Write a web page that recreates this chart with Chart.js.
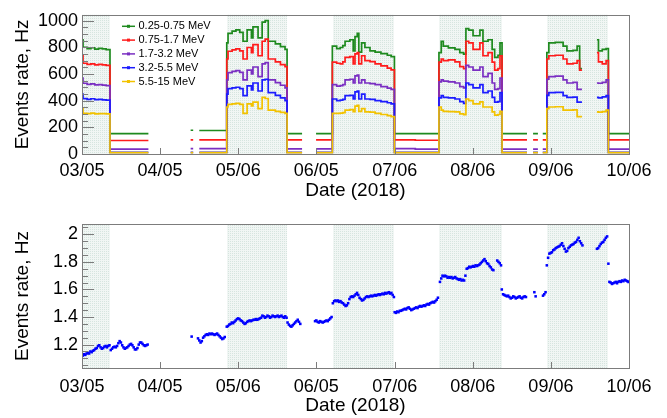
<!DOCTYPE html>
<html>
<head>
<meta charset="utf-8">
<script src="https://cdn.jsdelivr.net/npm/chart.js@4/dist/chart.umd.min.js"></script>
<style>
  html, body { margin: 0; padding: 0; background: #ffffff; }
  #wrap { position: relative; width: 667px; height: 418px; overflow: hidden; }
  .panel { position: absolute; left: 0; width: 667px; height: 209px; }
</style>
</head>
<body>
<div id="wrap">
  <div class="panel" style="top:0"><canvas id="topChart" width="667" height="209"></canvas></div>
  <div class="panel" style="top:209px"><canvas id="botChart" width="667" height="209"></canvas></div>
</div>
<script>
// ---------------- axis / annotation data ----------------
const tickDays   = [0, 30.7, 61.4, 92.1, 122.9, 153.6, 184.3, 215];
const tickLabels = ['03/05', '04/05', '05/06', '06/05', '07/06', '08/06', '09/06', '10/06'];
const shadeStart = [0, 56.8, 98.7, 140.4, 182.6];
const shadeEnd   = [11.0, 80.6, 122.5, 165.0, 206.9];
const topYTicks  = [0, 200, 400, 600, 800, 1000];
const botYTicks  = [1.2, 1.4, 1.6, 1.8, 2];
const botYLabels = ['1.2', '1.4', '1.6', '1.8', '2'];
const seriesLabels = ['0.25-0.75 MeV', '0.75-1.7 MeV', '1.7-3.2 MeV', '3.2-5.5 MeV', '5.5-15 MeV'];
const seriesColors = ['#1e8a1e', '#ff1c1c', '#7a2fc2', '#1c1cff', '#f2c200'];

// ---------------- top panel: rates per energy band (Hz) ----------------
const topDays = [
  0, 0.4, 2, 3.5, 5, 6.5, 8, 9.5, 11, 26.1,
  34, 42.7, 43.7, 45, 46.1, 56.9, 57.4, 59, 60.5, 62,
  63.3, 64.9, 66.6, 67.2, 69.2, 70.8, 72, 73.2, 76, 78,
  79.8, 80.6, 86.5, 89, 92, 98.4, 100.1, 101.5, 102.5, 103.4,
  105.3, 106.6, 107.3, 108.2, 108.8, 109.9, 111.2, 113.2, 115.2, 117.5,
  120, 121.5, 122.8, 131, 140.3, 141.2, 142, 144, 146.6, 148.5,
  150, 150.9, 152, 153.7, 156.4, 157.6, 159.6, 161.2, 162.2, 163.5,
  164.3, 165.1, 174.9, 176, 177.3, 179.2, 180, 181.1, 182.7, 183.5,
  186, 189.1, 190.6, 193, 194.6, 195.6, 196.5, 199, 202.4, 203,
  204.5, 206, 206.9, 215
];
const rateBand1 = [
  856, 800, 790, 796, 786, 792, 788, 782, 153, 153,
  null, 178, 178, null, 176, 832, 904, 920, 930, 912,
  845, 930, 870, 952, 870, 988, 1000, 845, 825, 805,
  784, 153, 153, null, 153, 808, 790, 798, 812, 845,
  856, 772, 880, 904, 763, 832, 798, 772, 763, 752,
  740, 730, 153, 153, 760, 845, 808, 795, 784, 760,
  748, 940, 928, 886, 928, 845, 856, 784, 724, 740,
  832, 153, 153, null, 153, 153, null, 153, 760, 832,
  836, 808, 772, 776, 808, 640, 640, null, 856, 772,
  784, 790, 153, 153
];
const rateBand2 = [
  736, 680, 672, 676, 668, 672, 668, 664, 101, 101,
  null, 106, 106, null, 106, 712, 770, 780, 788, 772,
  712, 798, 760, 820, 736, 845, 860, 712, 690, 670,
  655, 106, 106, null, 106, 688, 680, 676, 690, 724,
  730, 676, 750, 760, 676, 736, 700, 692, 676, 660,
  644, 630, 106, 103, 688, 712, 700, 706, 690, 655,
  640, 845, 832, 784, 832, 736, 760, 688, 628, 640,
  736, 106, 106, null, 106, 106, null, 106, 712, 736,
  740, 712, 676, 680, 700, 628, 628, null, 760, 690,
  676, 700, 106, 106
];
const rateBand3 = [
  568, 530, 522, 526, 518, 520, 516, 513, 36, 36,
  null, 41, 41, null, 41, 556, 610, 619, 625, 612,
  556, 628, 600, 652, 580, 676, 684, 556, 535, 515,
  496, 38, 38, null, 38, 520, 508, 512, 520, 556,
  560, 532, 585, 592, 532, 556, 532, 528, 520, 505,
  494, 484, 40, 36, 540, 556, 546, 540, 532, 505,
  496, 664, 652, 628, 652, 580, 604, 532, 484, 490,
  568, 36, 36, null, 36, 36, null, 36, 560, 580,
  584, 556, 532, 536, 484, 484, 484, null, 532, 530,
  536, 556, 36, 36
];
const rateBand4 = [
  448, 415, 410, 414, 408, 410, 406, 404, 12, 12,
  null, 12, 12, null, 12, 448, 490, 496, 500, 490,
  437, 510, 480, 532, 472, 556, 560, 460, 440, 420,
  400, 12, 12, null, 12, 412, 400, 404, 410, 437,
  440, 412, 465, 472, 412, 448, 412, 410, 400, 392,
  384, 376, 12, 12, 420, 437, 425, 420, 412, 392,
  380, 532, 520, 496, 520, 460, 472, 424, 388, 392,
  460, 12, 12, null, 12, 12, null, 12, 440, 460,
  462, 437, 424, 426, 388, 388, 388, null, 424, 420,
  428, 437, 12, 12
];
const rateBand5 = [
  340, 305, 303, 306, 301, 303, 302, 300, 10, 10,
  null, 10, 10, null, 10, 352, 372, 376, 380, 372,
  304, 376, 360, 388, 340, 424, 416, 328, 320, 312,
  304, 10, 10, null, 10, 304, 304, 306, 310, 328,
  332, 318, 358, 364, 320, 340, 316, 314, 304, 296,
  288, 280, 10, 10, 352, 328, 320, 318, 316, 300,
  295, 412, 400, 376, 390, 352, 352, 316, 292, 296,
  320, 10, 10, null, 10, 10, null, 10, 340, 352,
  354, 328, 328, 330, 280, 280, 280, null, 316, 314,
  318, 328, 10, 10
];
const topSeries = [rateBand1, rateBand2, rateBand3, rateBand4, rateBand5];

// ---------------- bottom panel: rate samples (Hz), one every sampleStep days ----------------
const sampleStep = 0.5;
const rateStarts = [0.3, 43.1, 45.6, 56.9, 80.8, 91.6, 98.6, 122.9, 140.7, 165.0, 177.8, 181.2, 182.7, 202.4, 206.9, 207.3];
const rateSegA = [1.12,1.13,1.125,1.135,1.14,1.135,1.15,1.145,1.155,1.16,1.17,1.175,1.19,1.195,1.18,1.17,1.175,1.185,1.19,1.18,1.19,1.195,
  1.16,1.17,1.18,1.185,1.18,1.19,1.21,1.225,1.215,1.195,1.18,1.17,1.175,1.18,1.19,1.2,1.205,1.195,1.18,1.165,1.165,1.175,1.2,1.215,1.215,1.205,1.195,1.19,1.195,1.2];
const rateSegB = [1.258];
const rateSegC = [1.245,1.23,1.215,1.225,1.25,1.26,1.27,1.275,1.27,1.28,1.275,1.28,1.275,1.27,1.275,1.28,1.27,1.26,1.25,1.24,1.245,1.255];
const rateSegD = [1.33,1.335,1.345,1.35,1.36,1.355,1.365,1.375,1.385,1.39,1.385,1.375,1.37,1.36,1.35,1.355,1.365,1.37,1.375,1.37,1.375,1.38,1.38,1.385,
  1.38,1.385,1.39,1.395,1.41,1.405,1.395,1.4,1.41,1.405,1.395,1.4,1.41,1.405,1.4,1.405,1.41,1.4,1.405,1.41,1.4,1.395,1.405,1.395];
const rateSegE = [1.36,1.345,1.335,1.33,1.34,1.35,1.36,1.37,1.38,1.365,1.35];
const rateSegF = [1.37,1.375,1.365,1.36,1.37,1.365,1.36,1.365,1.37,1.375,1.37,1.38,1.39,1.4];
const rateSegG = [1.5,1.515,1.52,1.515,1.52,1.51,1.515,1.505,1.5,1.49,1.48,1.485,1.5,1.53,1.545,1.55,1.545,1.555,1.565,1.575,1.56,1.54,1.53,1.52,1.525,
  1.535,1.545,1.55,1.545,1.55,1.555,1.55,1.555,1.56,1.555,1.56,1.565,1.56,1.565,1.57,1.565,1.575,1.57,1.575,1.58,1.57,1.575,1.56,1.545];
const rateSegH = [1.435,1.43,1.44,1.435,1.445,1.445,1.45,1.455,1.46,1.455,1.465,1.47,1.46,1.45,1.455,1.46,1.465,1.47,1.465,1.475,
  1.48,1.475,1.48,1.485,1.48,1.49,1.495,1.49,1.5,1.505,1.51,1.505,1.515,1.525,1.54];
const rateSegI = [1.655,1.68,1.7,1.695,1.7,1.695,1.685,1.69,1.685,1.69,1.68,1.685,1.69,1.68,1.675,1.67,1.675,1.665,1.67,1.665,1.7,1.75,1.755,1.765,1.76,
  1.765,1.77,1.765,1.775,1.77,1.775,1.78,1.79,1.8,1.81,1.82,1.805,1.79,1.785,1.77,1.76,1.745,1.74,null,null,1.81,1.8,1.79,1.775];
const rateSegJ = [1.6,1.565,1.56,1.555,1.55,1.555,1.545,1.535,1.54,1.55,1.545,1.535,1.54,1.545,1.55,1.54,1.535,1.545,1.55,1.545];
const rateSegK = [1.58, 1.55];
const rateSegL = [1.555, 1.565, 1.58];
const rateSegM = [1.775,1.83,1.86,1.865,1.87,1.885,1.89,1.9,1.905,1.91,1.915,1.925,1.935,1.915,1.895,1.875,1.88,1.9,1.91,1.92,1.925,1.93,1.94,1.945,1.96,1.975,1.95,1.935,1.92];
const rateSegN = [1.895,1.9,1.915,1.93,1.94,1.945,1.96,1.975,1.985];
const rateSegO = [1.787];
const rateSegP = [1.655,1.65,1.64,1.645,1.65,1.655,1.645,1.655,1.66,1.655,1.665,1.66,1.67,1.665,1.66,1.655];
const rateSegs = [rateSegA, rateSegB, rateSegC, rateSegD, rateSegE, rateSegF, rateSegG, rateSegH,
                  rateSegI, rateSegJ, rateSegK, rateSegL, rateSegM, rateSegN, rateSegO, rateSegP];

// ---------------- rendering ----------------
const FONT = '"Liberation Sans", Arial, Helvetica, sans-serif';
Chart.defaults.font.family = FONT;
Chart.defaults.color = '#000';

function shadePattern(ctx) {
  const c = document.createElement('canvas');
  c.width = 2; c.height = 2;
  const g = c.getContext('2d');
  g.fillStyle = '#f1f6f4'; g.fillRect(0, 0, 2, 2);
  g.fillStyle = '#d6e5df'; g.fillRect(0, 0, 1, 1);
  return ctx.createPattern(c, 'repeat');
}

const shadePlugin = {
  id: 'shade',
  beforeDatasetsDraw(chart) {
    const { ctx, chartArea: a, scales: { x } } = chart;
    ctx.save();
    ctx.fillStyle = shadePattern(ctx);
    shadeStart.forEach((s, i) => {
      const x0 = Math.max(a.left, Math.round(x.getPixelForValue(s)));
      const x1 = Math.min(a.right, Math.round(x.getPixelForValue(shadeEnd[i])));
      ctx.fillRect(x0, a.top, x1 - x0, a.bottom - a.top);
    });
    ctx.restore();
  }
};

const framePlugin = {
  id: 'frameTicks',
  afterDatasetsDraw(chart, args, opts) {
    const { ctx, chartArea: a, scales: { x, y } } = chart;
    ctx.save();
    ctx.strokeStyle = '#7c7c7c';
    ctx.lineWidth = 1;
    ctx.beginPath();
    opts.major.forEach(v => {
      const py = Math.round(y.getPixelForValue(v)) + 0.5;
      ctx.moveTo(a.left, py); ctx.lineTo(a.left + 12, py);
    });
    opts.minor.forEach(v => {
      const py = Math.round(y.getPixelForValue(v)) + 0.5;
      if (py > a.top && py < a.bottom) { ctx.moveTo(a.left, py); ctx.lineTo(a.left + 6, py); }
    });
    tickDays.forEach(v => {
      const px = Math.round(x.getPixelForValue(v)) + 0.5;
      ctx.moveTo(px, a.bottom); ctx.lineTo(px, a.bottom - 6);
    });
    ctx.stroke();
    ctx.strokeRect(Math.round(a.left) + 0.5, Math.round(a.top) + 0.5,
                   Math.round(a.right - a.left), Math.round(a.bottom - a.top));
    ctx.restore();
  }
};

const legendPlugin = {
  id: 'innerLegend',
  afterDatasetsDraw(chart, args, opts) {
    if (!opts.show) return;
    const { ctx, chartArea: a } = chart;
    ctx.save();
    ctx.font = '11px ' + FONT;
    ctx.textBaseline = 'middle';
    ctx.textAlign = 'left';
    chart.data.datasets.forEach((d, i) => {
      const yy = a.top + 11.5 + i * 13.8;
      const x0 = a.left + 40;
      ctx.strokeStyle = d.borderColor;
      ctx.lineWidth = 1.5;
      ctx.beginPath(); ctx.moveTo(x0, yy); ctx.lineTo(x0 + 13, yy); ctx.stroke();
      ctx.fillStyle = d.borderColor;
      ctx.fillRect(x0 + 5, yy - 1.5, 3, 3);
      ctx.fillStyle = '#000';
      ctx.fillText(d.label, x0 + 16.5, yy);
    });
    ctx.restore();
  }
};

function minorTicks(lo, hi, step) {
  const out = [];
  for (let v = lo; v <= hi + 1e-9; v += step) out.push(+v.toFixed(4));
  return out;
}

function xAxis(height, labelPad, titlePad) {
  return {
    type: 'linear', min: 0, max: 215,
    afterBuildTicks: s => { s.ticks = tickDays.map(v => ({ value: v })); },
    afterFit: s => { s.height = height; },
    ticks: { autoSkip: false, maxRotation: 0, padding: labelPad, font: { size: 18 }, color: '#000',
             callback: (v, i) => tickLabels[i] },
    grid: { display: false, drawTicks: false },
    border: { display: false },
    title: { display: true, text: 'Date (2018)', font: { size: 19 }, color: '#000',
             padding: { top: 0, bottom: titlePad } }
  };
}

function yAxis(min, max, ticks, labels) {
  return {
    type: 'linear', min: min, max: max,
    afterBuildTicks: s => { s.ticks = ticks.map(v => ({ value: v })); },
    afterFit: s => { s.width = 82; },
    ticks: { padding: 4, font: { size: 18 }, color: '#000',
             callback: (v, i) => labels[i] },
    grid: { display: false, drawTicks: false },
    border: { display: false },
    title: { display: true, text: 'Events rate, Hz', font: { size: 19 }, color: '#000',
             padding: { top: 11, bottom: 0 } }
  };
}

new Chart(document.getElementById('topChart'), {
  type: 'line',
  data: {
    datasets: topSeries.map((vals, k) => ({
      label: seriesLabels[k],
      data: topDays.map((d, i) => ({ x: d, y: vals[i] })),
      borderColor: seriesColors[k],
      backgroundColor: seriesColors[k],
      borderWidth: 1.7,
      pointRadius: 0,
      stepped: true,
      spanGaps: false,
      fill: false,
      order: 5 - k
    }))
  },
  options: {
    responsive: false, animation: false,
    layout: { padding: { top: 9, right: 38, left: 0, bottom: 0 } },
    scales: {
      x: xAxis(55, 6, 7),
      y: yAxis(0, 1043, topYTicks, topYTicks.map(String))
    },
    plugins: {
      legend: { display: false }, tooltip: { enabled: false },
      frameTicks: { major: topYTicks, minor: minorTicks(0, 1040, 50) },
      innerLegend: { show: true }
    }
  },
  plugins: [shadePlugin, framePlugin, legendPlugin]
});

const ratePoints = [];
rateSegs.forEach((vals, s) => vals.forEach((v, j) => {
  if (v !== null) ratePoints.push({ x: rateStarts[s] + j * sampleStep, y: v });
}));

new Chart(document.getElementById('botChart'), {
  type: 'scatter',
  data: {
    datasets: [{
      label: 'rate',
      data: ratePoints,
      pointStyle: 'rect',
      pointRadius: 1.8,
      pointBorderWidth: 0,
      backgroundColor: '#0000ff',
      borderColor: '#0000ff',
      showLine: false
    }]
  },
  options: {
    responsive: false, animation: false,
    layout: { padding: { top: 15, right: 38, left: 0, bottom: 0 } },
    scales: {
      x: xAxis(50, 8, 1),
      y: yAxis(1.03, 2.075, botYTicks, botYLabels)
    },
    plugins: {
      legend: { display: false }, tooltip: { enabled: false },
      frameTicks: { major: botYTicks, minor: minorTicks(1.05, 2.05, 0.05) },
      innerLegend: { show: false }
    }
  },
  plugins: [shadePlugin, framePlugin, legendPlugin]
});
</script>
</body>
</html>
